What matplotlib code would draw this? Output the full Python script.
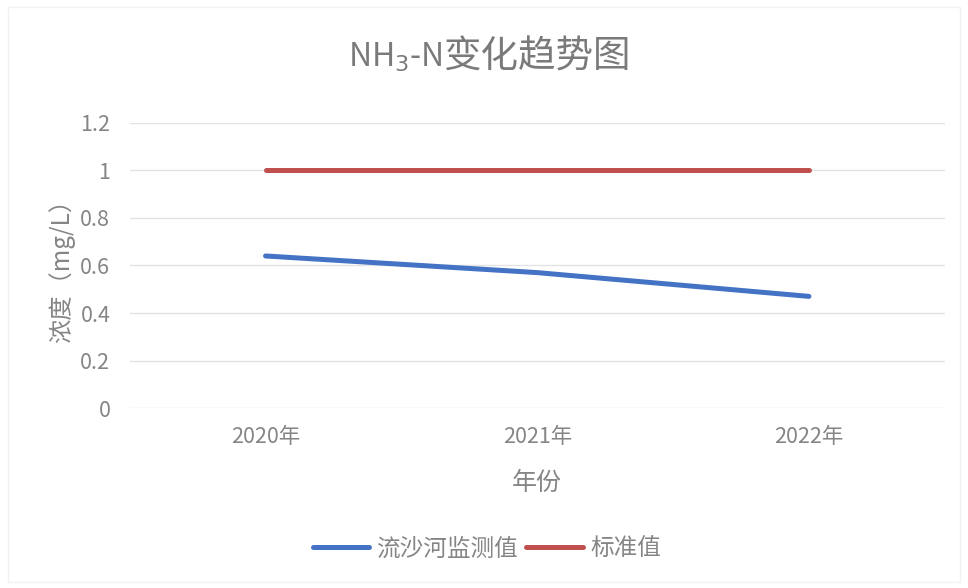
import matplotlib
matplotlib.use("Agg")
import matplotlib.pyplot as plt
from matplotlib.patches import Rectangle

plt.rcParams['font.family'] = ['Noto Sans CJK SC', 'DejaVu Sans']

years = ['2020年', '2021年', '2022年']
measured = [0.64, 0.57, 0.47]
standard = [1.0, 1.0, 1.0]
y_ticks = [0, 0.2, 0.4, 0.6, 0.8, 1.0, 1.2]
y_tick_labels = ['0', '0.2', '0.4', '0.6', '0.8', '1', '1.2']

TEXT_GRAY = '#858585'
BLUE = '#4472C4'
RED = '#C0504D'

fig = plt.figure(figsize=(9.68, 5.88), dpi=100)
ax = fig.add_axes([0.134, 0.306, 0.842, 0.485])

x = list(range(len(years)))
ax.plot(x, measured, color=BLUE, lw=3.6, solid_capstyle='round', label='流沙河监测值')
ax.plot(x, standard, color=RED, lw=3.6, solid_capstyle='round', label='标准值')

ax.set_xlim(-0.5, len(years) - 0.5)
ax.set_ylim(0, 1.2)
ax.set_yticks(y_ticks)
ax.set_yticklabels(y_tick_labels)
ax.set_xticks(x)
ax.set_xticklabels(years)
ax.tick_params(length=0, labelsize=15.5, colors=TEXT_GRAY, pad=14)
ax.tick_params(axis='x', pad=13)

ax.grid(axis='y', color='#e3e3e3', lw=1)
ax.set_axisbelow(True)
for s in ax.spines.values():
    s.set_visible(False)

ax.set_ylabel('浓度（mg/L）', fontsize=17.5, color=TEXT_GRAY, labelpad=4)
ax.set_xlabel('年份', fontsize=18, color=TEXT_GRAY, labelpad=16)

# title: chemical formula and the chinese part set side by side on one baseline
fig.text(0.4577, 0.886, 'NH$_3$-N', ha='right', va='baseline',
         fontsize=23, color='#7a7a7a')
fig.text(0.4577, 0.886, '变化趋势图', ha='left', va='baseline',
         fontsize=27, color='#7a7a7a')

fig.legend(loc='center', bbox_to_anchor=(0.503, 0.066), ncol=2, frameon=False,
           fontsize=17, labelcolor=TEXT_GRAY, handlelength=2.4,
           handletextpad=0.3, columnspacing=0.35)

# faint chart-area border
fig.patches.append(Rectangle((0.008, 0.01), 0.984, 0.978, transform=fig.transFigure,
                             fill=False, edgecolor='#f2f2f2', lw=1))

fig.savefig('out.png', dpi=100)
